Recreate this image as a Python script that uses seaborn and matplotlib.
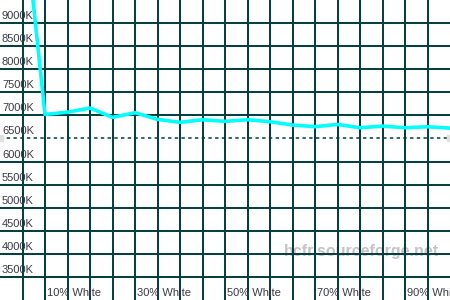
import matplotlib
matplotlib.use("Agg")
import matplotlib.pyplot as plt
import matplotlib.transforms as mtransforms
import seaborn as sns
import pandas as pd

# Data
levels = [5, 10, 15, 20, 25, 30, 35, 40, 45, 50, 55, 60, 65, 70, 75, 80, 85, 90, 95, 100]
color_temp = [11650, 7020, 7070, 7160, 6957, 7058, 6913, 6850, 6906, 6870, 6906, 6863,
              6790, 6755, 6804, 6732, 6768, 6732, 6754, 6724]
y_ticks = [3500, 4000, 4500, 5000, 5500, 6000, 6500, 7000, 7500, 8000, 8500, 9000]
y_tick_labels = ["3500K", "4000K", "4500K", "5000K", "5500K", "6000K", "6500K",
                 "7000K", "7500K", "8000K", "8500K", "9000K"]
x_grid = [5, 10, 15, 20, 25, 30, 35, 40, 45, 50, 55, 60, 65, 70, 75, 80, 85, 90, 95]
x_label_pos = [10, 30, 50, 70, 90]
x_labels = ["10% White", "30% White", "50% White", "70% White", "90% White"]
reference_temp = 6500

sns.set_style("white")
plt.rcParams["font.family"] = ["Liberation Sans", "DejaVu Sans"]

fig = plt.figure(figsize=(4.5, 3.0), dpi=100)
ax = fig.add_axes([0, 0, 1, 1])
ax.set_xlim(0, 100)
ax.set_ylim(3000, 9500)
for s in ax.spines.values():
    s.set_visible(False)
ax.set_xticks([])
ax.set_yticks([])

grid_color = "#003c3c"
text_color = "#3a3a48"

for xv in x_grid:
    ax.axvline(xv, color=grid_color, lw=1.4, zorder=2)
for yv in y_ticks:
    if yv == reference_temp:
        ax.axhline(yv, color=grid_color, lw=1.1, ls=(0, (2.2, 2.2)), zorder=2)
    else:
        ax.axhline(yv, color=grid_color, lw=1.4, zorder=2)

# small grey end markers of the reference line
ax.plot([0, 100], [reference_temp, reference_temp], ls="none", marker="s",
        ms=5, color="#e0e0e0", zorder=2, clip_on=True)

# watermark
ax.text(0.975, 0.162, "hcfr.sourceforge.net", transform=ax.transAxes,
        ha="right", va="center", fontsize=11.5, fontweight="bold",
        color="#c4c4c4", zorder=1)

# y labels (inside, above their grid line)
for yv, lab in zip(y_ticks, y_tick_labels):
    ax.annotate(lab, xy=(0, yv), xycoords="data", xytext=(2, 4),
                textcoords="offset pixels", ha="left", va="baseline",
                fontsize=8, color=text_color, zorder=3)

# x labels along the bottom
for xv, lab in zip(x_label_pos, x_labels):
    ax.annotate(lab, xy=(xv, 3000), xycoords="data", xytext=(2, 4),
                textcoords="offset pixels", ha="left", va="baseline",
                fontsize=8, color=text_color, zorder=3)

df = pd.DataFrame({"level": levels, "temp": color_temp})
sns.lineplot(data=df, x="level", y="temp", ax=ax, color="#00ffff", lw=2.6,
             zorder=4, sort=False, legend=False)
ax.set_xlabel("")
ax.set_ylabel("")
ax.set_xlim(0, 100)
ax.set_ylim(3000, 9500)
ax.set_xticks([])
ax.set_yticks([])

fig.savefig("out.png", dpi=100, facecolor="white")
